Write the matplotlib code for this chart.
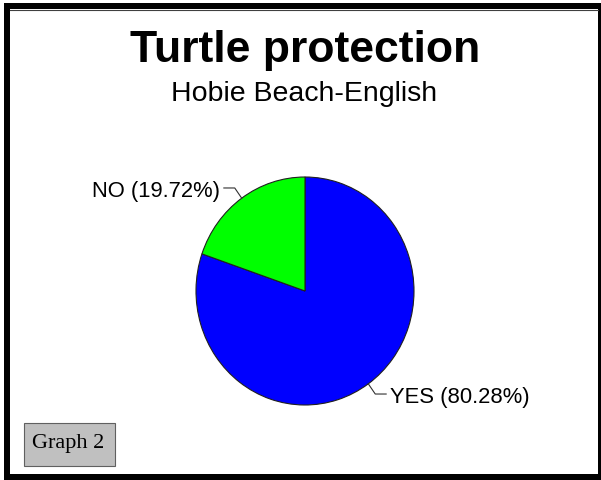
import numpy as np
import matplotlib
matplotlib.use("Agg")
import matplotlib.pyplot as plt
from matplotlib.patches import Rectangle
from matplotlib.lines import Line2D

# === Datos ===
categorias = ["YES", "NO"]
porcentajes = [80.28, 19.72]
colores = ["#0000ff", "#00ff00"]
titulo = "Turtle protection"
subtitulo = "Hobie Beach-English"
etiqueta_grafico = "Graph 2"

W, H = 601, 481


def fx(x):
    return x / W


def fy(y):
    # coordenada en pixeles desde arriba -> fraccion de figura
    return 1 - y / H


fig = plt.figure(figsize=(W / 100, H / 100), dpi=100)
fig.patch.set_facecolor("white")

# marco negro con borde grueso
fig.add_artist(Rectangle((fx(4), fy(481)), fx(597), 477 / H, transform=fig.transFigure,
                         facecolor="black", edgecolor="none", zorder=0))
fig.add_artist(Rectangle((fx(10), fy(475)), fx(588), 465 / H, transform=fig.transFigure,
                         facecolor="white", edgecolor="none", zorder=0.5))
fig.add_artist(Line2D([fx(10), fx(598)], [fy(11), fy(11)], transform=fig.transFigure,
                      color="#404040", linewidth=0.8, zorder=0.6))

# titulos
fig.text(fx(305), fy(62), titulo, ha="center", va="baseline", fontsize=32,
         fontweight="bold", family="Liberation Sans")
fig.text(fx(304), fy(101), subtitulo, ha="center", va="baseline", fontsize=20.5,
         family="Liberation Sans")

# === Pastel ===
cx, cy, rx, ry = 305, 292, 109, 114
ax = fig.add_axes([fx(cx - rx), fy(cy + ry), 2 * rx / W, 2 * ry / H])
ax.set_zorder(2)
wedges, _ = ax.pie(porcentajes, colors=colores, startangle=90, counterclock=False,
                   wedgeprops=dict(edgecolor="#202020", linewidth=0.8))
ax.set_aspect("auto")
ax.set_xlim(-1, 1)
ax.set_ylim(-1, 1)
ax.axis("off")

# etiquetas con lineas guia
for w, cat, pct in zip(wedges, categorias, porcentajes):
    ang = np.deg2rad((w.theta1 + w.theta2) / 2)
    x0, y0 = np.cos(ang), np.sin(ang)
    x1, y1 = 1.11 * x0, 1.11 * y0
    lado = np.sign(x0)
    x2 = x1 + lado * 0.1
    ax.plot([x0, x1, x2], [y0, y1, y1], color="#303030", linewidth=0.8, clip_on=False)
    ax.text(x2 + lado * 0.035, y1 - 0.02, f"{cat} ({pct:.2f}%)",
            ha="left" if lado > 0 else "right", va="center", fontsize=15.8,
            family="Liberation Sans", clip_on=False)

# caja "Graph 2"
fig.add_artist(Rectangle((fx(24), fy(467)), 91 / W, 43 / H, transform=fig.transFigure,
                         facecolor="#c0c0c0", edgecolor="#606060", linewidth=0.8, zorder=1))
fig.text(fx(68), fy(448), etiqueta_grafico, ha="center", va="baseline", fontsize=16,
         family="Liberation Serif", zorder=2)

fig.savefig("out.png", dpi=100)
